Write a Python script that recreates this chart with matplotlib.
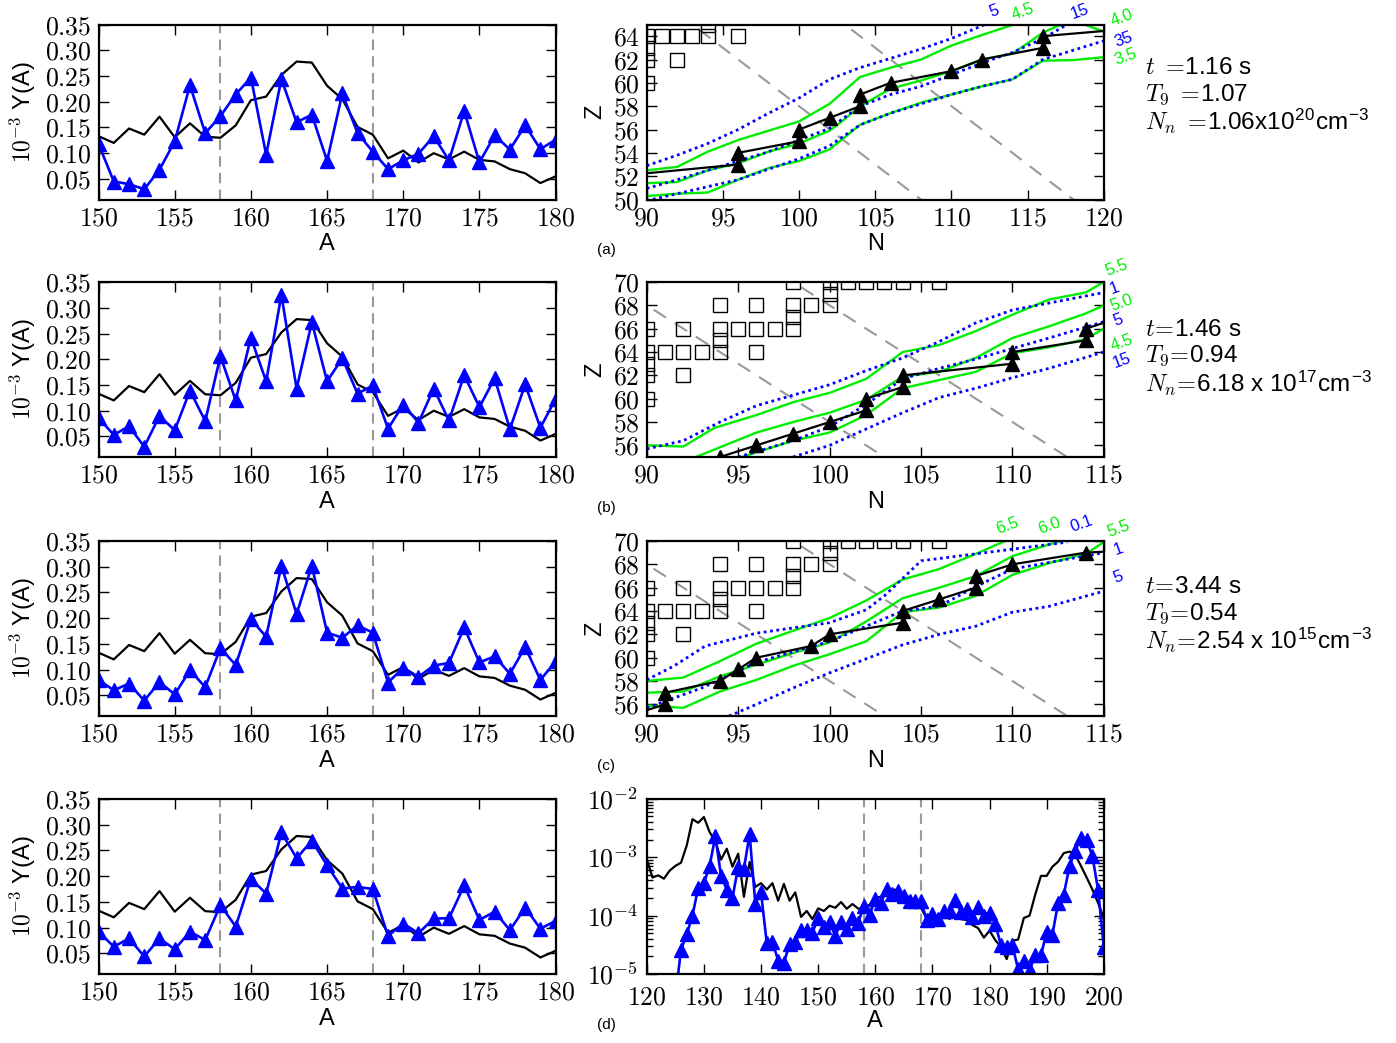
import numpy as np
import matplotlib.pyplot as plt
from matplotlib.ticker import FuncFormatter, LogLocator, NullFormatter

plt.rcParams['mathtext.fontset'] = 'cm'
plt.rcParams['font.family'] = ['Liberation Sans', 'DejaVu Sans']

# abundances around the rare-earth peak, A = 150..180, in units of 1e-3
A = np.arange(150, 181)
solar = [0.133, 0.120, 0.148, 0.136, 0.171, 0.131, 0.158, 0.132, 0.130, 0.154,
         0.203, 0.210, 0.252, 0.278, 0.276, 0.231, 0.205, 0.151, 0.136, 0.090,
         0.105, 0.082, 0.100, 0.088, 0.103, 0.087, 0.084, 0.069, 0.061, 0.042,
         0.055]
Y_a = [0.118, 0.045, 0.040, 0.030, 0.068, 0.123, 0.232, 0.139, 0.172, 0.214,
       0.247, 0.097, 0.244, 0.160, 0.175, 0.085, 0.216, 0.139, 0.103, 0.069,
       0.086, 0.099, 0.133, 0.086, 0.182, 0.082, 0.135, 0.107, 0.154, 0.108,
       0.126]
Y_b = [0.086, 0.053, 0.070, 0.030, 0.090, 0.062, 0.139, 0.080, 0.206, 0.120,
       0.242, 0.157, 0.325, 0.143, 0.272, 0.157, 0.202, 0.133, 0.149, 0.065,
       0.112, 0.077, 0.143, 0.081, 0.169, 0.107, 0.163, 0.064, 0.151, 0.067,
       0.123]
Y_c = [0.080, 0.060, 0.073, 0.040, 0.076, 0.052, 0.099, 0.066, 0.142, 0.109,
       0.198, 0.164, 0.302, 0.208, 0.302, 0.172, 0.162, 0.186, 0.172, 0.075,
       0.104, 0.086, 0.108, 0.113, 0.182, 0.114, 0.126, 0.092, 0.144, 0.080,
       0.116]
Y_d = [0.092, 0.063, 0.079, 0.044, 0.079, 0.058, 0.092, 0.076, 0.144, 0.102,
       0.195, 0.166, 0.285, 0.235, 0.269, 0.221, 0.176, 0.179, 0.175, 0.084,
       0.108, 0.089, 0.118, 0.118, 0.182, 0.115, 0.131, 0.095, 0.139, 0.098,
       0.113]

# wide range for the final abundances (absolute units)
A_solar_lo = np.arange(120, 150)
solar_lo = [9.3e-4, 4.5e-4, 4.9e-4, 4.3e-4, 5.9e-4, 7.1e-4, 8.1e-4, 1.6e-3, 4.5e-3, 3.9e-3,
            4.9e-3, 2.7e-3, 1.9e-3, 9.1e-4, 1.4e-3, 6.9e-4, 1.15e-3, 2.1e-4, 8.3e-4, 3.1e-4,
            3.6e-4, 2.8e-4, 3.6e-4, 1.8e-4, 3.5e-4, 1.8e-4, 2.5e-4, 9.5e-5, 1.2e-4, 8.7e-5]
A_hi = np.arange(181, 201)
solar_hi = [3.8e-5, 2.9e-5, 1.8e-5, 3.7e-5, 3.9e-5, 9.1e-5, 1.0e-4, 2.3e-4, 4.8e-4, 4.8e-4,
            6.9e-4, 8.4e-4, 1.18e-3, 1.25e-3, 1.1e-3, 7.1e-4, 4.5e-4, 2.8e-4, 1.65e-4, 9.1e-5]
A_calc_lo = np.arange(125, 150)
Y_lo = [4e-6, 2.6e-5, 4.8e-5, 1.0e-4, 3.0e-4, 3.6e-4, 7.1e-4, 2.3e-3, 4.8e-4, 2.8e-4,
        2.0e-4, 6.9e-4, 6.3e-4, 2.5e-3, 1.6e-4, 2.5e-4, 3.4e-5, 3.5e-5, 1.7e-5, 1.55e-5,
        3.3e-5, 3.5e-5, 5.6e-5, 5.6e-5, 5.1e-5]
Y_hi = [7.2e-5, 3.1e-5, 2.9e-5, 3.1e-5, 1.2e-5, 1.7e-5, 1.15e-5, 2.1e-5, 2.1e-5, 5.2e-5,
        4.7e-5, 1.66e-4, 2.3e-4, 7.1e-4, 1.3e-3, 2.1e-3, 1.95e-3, 1.05e-3, 2.75e-4, 2.9e-5]

# mass window marked in every panel
A_window = [158, 168]

# stable nuclei (N, Z)
stable_N = [90, 90, 90, 90, 91, 92, 93, 94, 96, 94,
            90, 92, 94, 95, 96, 97, 98, 98,
            94, 96, 98, 99, 100, 100,
            98, 100, 101, 102, 103, 104, 106, 92]
stable_Z = [60, 62, 63, 64, 64, 64, 64, 64, 64, 65,
            66, 66, 66, 66, 66, 66, 66, 67,
            68, 68, 68, 68, 68, 69,
            70, 70, 70, 70, 70, 70, 70, 62]

# r-process path (most abundant isotope per element)
path_a_N = [88, 96, 96, 100, 100, 102, 104, 104, 106, 110, 112, 116, 116, 125]
path_a_Z = [52, 53, 54, 55, 56, 57, 58, 59, 60, 61, 62, 63, 64, 65]
path_b_N = [92, 94, 96, 98, 100, 102, 102, 104, 104, 110, 110, 114, 114, 116]
path_b_Z = [54, 55, 56, 57, 58, 59, 60, 61, 62, 63, 64, 65, 66, 67]
path_c_N = [89, 91, 91, 94, 95, 96, 99, 100, 104, 104, 106, 108, 108, 110, 114, 126]
path_c_Z = [55, 56, 57, 58, 59, 60, 61, 62, 63, 64, 65, 66, 67, 68, 69, 70]

# neutron separation energy contours (MeV)
sn_a = {
    '4.5': ([90, 92, 94, 96, 98, 100, 102, 104, 106, 108, 110, 112, 114.1],
            [52.5, 52.8, 54.1, 55.1, 55.9, 56.7, 58.2, 60.5, 61.3, 62.0, 63.2, 64.1, 65.0]),
    '4.0': ([90, 92, 93, 94, 96, 98, 100, 102, 103, 104, 106, 108, 110, 112, 114, 116, 117, 118.5, 120],
            [51.4, 51.5, 52.0, 52.5, 53.1, 54.1, 54.8, 55.9, 56.9, 58.0, 59.5, 60.2, 61.0, 62.0, 62.5, 64.3, 64.9, 65.1, 64.4]),
    '3.5': ([90, 92, 94, 96, 98, 100, 102, 104, 106, 108, 110, 112, 114, 116, 118, 120],
            [50.3, 50.5, 50.6, 51.7, 52.7, 53.3, 54.3, 56.4, 57.4, 58.3, 59.0, 59.7, 60.3, 61.9, 61.95, 62.2]),
}
sn_b = {
    '5.5': ([90, 92, 93.7, 96, 98, 100, 102, 104, 106, 108, 110, 112, 114, 115],
            [56.0, 55.9, 57.5, 58.6, 59.7, 60.5, 61.7, 64.0, 64.6, 65.8, 67.2, 68.5, 69.1, 70.0]),
    '5.0': ([92, 93, 96, 98, 100, 102, 104, 106, 108, 110, 112, 114, 115],
            [54.6, 55.2, 57.1, 58.0, 58.8, 59.9, 61.9, 62.3, 63.5, 65.2, 66.2, 67.3, 68.0]),
    '4.5': ([95, 98, 100, 102, 104, 106, 108, 110, 112, 114, 115],
            [54.9, 56.4, 57.1, 58.6, 60.9, 61.6, 62.3, 63.9, 64.4, 65.1, 66.0]),
}
sn_c = {
    '6.5': ([90, 92, 94, 96, 98, 100, 102, 104, 106, 108, 109.6],
            [58.0, 58.3, 59.7, 61.2, 62.3, 63.4, 64.9, 66.7, 67.6, 68.9, 70.0]),
    '6.0': ([90, 92, 94, 96, 98, 100, 102, 104, 106, 108, 110, 112, 112.7],
            [57.0, 57.1, 58.4, 59.4, 60.4, 61.3, 63.1, 65.1, 66.0, 67.0, 68.7, 69.7, 70.0]),
    '5.5': ([90, 92, 94, 96, 98, 100, 102, 104, 106, 108, 110, 112, 114, 115],
            [55.9, 55.7, 57.1, 58.1, 59.3, 60.3, 61.4, 63.9, 64.3, 65.3, 67.1, 68.1, 68.9, 69.9]),
}

# neutron-capture timescale contours
tau_a = {
    '5': ([90, 92, 94, 96, 98, 100, 102, 104, 106, 108, 110, 112.2],
          [52.9, 53.8, 54.8, 56.0, 57.4, 58.7, 60.3, 61.3, 62.1, 62.9, 63.8, 65.0]),
    '15': ([90, 92, 94, 96, 98, 100, 102, 104, 106, 108, 110, 112, 114, 116, 117.6],
           [50.95, 51.7, 52.5, 53.3, 54.1, 55.1, 56.1, 58.0, 59.0, 59.7, 60.7, 61.7, 62.6, 63.8, 65.0]),
    '35': ([90, 92, 94, 96, 98, 100, 102, 104, 106, 108, 110, 112, 114, 116, 118, 120],
           [49.9, 50.5, 51.1, 51.7, 52.6, 53.5, 54.6, 56.4, 57.4, 58.2, 59.0, 59.7, 60.3, 62.0, 62.8, 63.6]),
}
tau_b = {
    '1': ([90, 92, 94, 96, 98, 100, 102, 104, 106, 108, 110, 112, 115],
          [55.7, 56.4, 58.0, 59.4, 60.3, 61.2, 62.4, 63.5, 64.9, 66.5, 67.6, 68.2, 69.1]),
    '5': ([95, 98, 100, 102, 104, 106, 108, 110, 112, 115],
          [55.0, 56.4, 57.6, 59.5, 61.7, 62.6, 63.4, 64.3, 65.2, 66.6]),
    '15': ([98, 100, 102, 104, 106, 108, 110, 112, 115],
           [55.0, 56.0, 57.4, 58.8, 60.1, 60.9, 61.8, 62.6, 64.0]),
}
tau_c = {
    '0.1': ([90, 91.5, 93.2, 96, 100, 102, 103, 105, 108, 113],
            [58.1, 59.3, 61.0, 62.1, 63.0, 64.1, 65.3, 68.3, 68.9, 69.9]),
    '1': ([90, 93, 96, 100, 102, 104, 106, 108, 110, 115],
          [55.7, 57.4, 59.6, 61.4, 62.7, 64.0, 64.4, 66.1, 67.6, 69.0]),
    '5': ([94.5, 96, 98, 100, 102, 104, 106, 108, 110, 112, 115],
          [55.0, 56.0, 57.4, 58.7, 59.9, 61.1, 62.0, 62.7, 63.9, 64.4, 65.7]),
}

GREEN = '#00ee00'
GRAY = '#999999'

fig = plt.figure(figsize=(13.96, 10.43), dpi=100)
rows_y0 = [0.8087, 0.5618, 0.3135, 0.0662]
h = 0.1678
xl, xr, w = 0.0706, 0.4633, 0.3274


def style(ax):
    ax.tick_params(which='major', direction='in', top=True, right=True,
                   length=7, width=1, labelsize=18.5, pad=5)
    ax.tick_params(which='minor', direction='in', top=True, right=True,
                   length=4, width=1)
    for s in ax.spines.values():
        s.set_linewidth(1.6)


int_fmt = FuncFormatter(lambda v, p: '$%d$' % round(v))


def draw_yield(ax, Y):
    for a in A_window:
        ax.axvline(a, color=GRAY, lw=1.5, ls=(0, (5, 3)))
    ax.plot(A, solar, 'k-', lw=1.6)
    ax.plot(A, Y, '-^', color='b', ms=10, lw=1.9)
    ax.set_xlim(150, 180)
    ax.set_ylim(0.01, 0.35)
    ax.set_xticks([150, 155, 160, 165, 170, 175, 180])
    ax.set_yticks([0.05, 0.10, 0.15, 0.20, 0.25, 0.30, 0.35])
    ax.xaxis.set_major_formatter(int_fmt)
    ax.yaxis.set_major_formatter(FuncFormatter(lambda v, p: '$%.2f$' % v))
    ax.set_xlabel('A', fontsize=17, labelpad=2)
    ax.set_ylabel('$10^{-3}$ Y(A)', fontsize=17, labelpad=5)
    style(ax)


def draw_chart(ax, path_N, path_Z, sn, tau, labels, xlim, ylim):
    N = np.array([80, 130])
    for a in A_window:
        ax.plot(N, a - N, color=GRAY, lw=1.5, ls=(0, (7, 5)))
    ax.plot(stable_N, stable_Z, 's', ms=9.5, mfc='none', mec='k', mew=1.0)
    for n, z in sn.values():
        ax.plot(n, z, color=GREEN, lw=1.7)
    for n, z in tau.values():
        ax.plot(n, z, color='b', lw=2, ls=(0, (1, 1.3)))
    ax.plot(path_N, path_Z, 'k-^', ms=9.5, lw=1.6)
    for text, color, x, y in labels:
        ax.text(x, y, text, color=color, fontsize=12, rotation=20,
                ha='center', va='center', clip_on=False)
    ax.set_xlim(*xlim)
    ax.set_ylim(*ylim)
    ax.set_xticks(np.arange(xlim[0], xlim[1] + 1, 5))
    ax.set_yticks(np.arange(ylim[0] + (ylim[0] % 2), ylim[1] + 1, 2))
    ax.xaxis.set_major_formatter(int_fmt)
    ax.yaxis.set_major_formatter(int_fmt)
    ax.set_xlabel('N', fontsize=17, labelpad=2)
    ax.set_ylabel('Z', fontsize=17, labelpad=5)
    style(ax)


labels_a = [('5', 'b', 112.8, 66.1), ('4.5', GREEN, 114.7, 66.1), ('15', 'b', 118.4, 66.1),
            ('4.0', GREEN, 121.2, 65.6), ('35', 'b', 121.3, 63.7), ('3.5', GREEN, 121.4, 62.2)]
labels_b = [('5.5', GREEN, 115.7, 71.2), ('1', 'b', 115.6, 69.5), ('5.0', GREEN, 116.0, 68.2),
            ('5', 'b', 115.8, 66.7), ('4.5', GREEN, 116.0, 64.8), ('15', 'b', 116.0, 63.3)]
labels_c = [('6.5', GREEN, 109.7, 71.3), ('6.0', GREEN, 112.0, 71.3), ('0.1', 'b', 113.8, 71.5),
            ('5.5', GREEN, 115.8, 71.0), ('1', 'b', 115.8, 69.3), ('5', 'b', 115.8, 66.9)]

for y0, Y in zip(rows_y0, [Y_a, Y_b, Y_c, Y_d]):
    draw_yield(fig.add_axes([xl, y0, w, h]), Y)

draw_chart(fig.add_axes([xr, rows_y0[0], w, h]), path_a_N, path_a_Z, sn_a, tau_a,
           labels_a, (90, 120), (50, 65))
draw_chart(fig.add_axes([xr, rows_y0[1], w, h]), path_b_N, path_b_Z, sn_b, tau_b,
           labels_b, (90, 115), (55, 70))
draw_chart(fig.add_axes([xr, rows_y0[2], w, h]), path_c_N, path_c_Z, sn_c, tau_c,
           labels_c, (90, 115), (55, 70))

# full abundance distribution on a log scale
ax = fig.add_axes([xr, rows_y0[3], w, h])
A_solar = np.concatenate([A_solar_lo, A, A_hi])
Y_solar = np.concatenate([solar_lo, np.array(solar) * 1e-3, solar_hi])
A_calc = np.concatenate([A_calc_lo, A, A_hi])
Y_calc = np.concatenate([Y_lo, np.array(Y_d) * 1e-3, Y_hi])
for a in A_window:
    ax.axvline(a, color=GRAY, lw=1.5, ls=(0, (5, 3)))
ax.plot(A_solar, Y_solar, 'k-', lw=1.6)
ax.plot(A_calc, Y_calc, '-^', color='b', ms=10, lw=1.9)
ax.set_yscale('log')
ax.set_xlim(120, 200)
ax.set_ylim(1e-5, 1e-2)
ax.set_xticks(np.arange(120, 201, 10))
ax.xaxis.set_major_formatter(int_fmt)
ax.yaxis.set_major_locator(LogLocator(base=10, numticks=10))
ax.yaxis.set_minor_locator(LogLocator(base=10, subs=np.arange(2, 10), numticks=10))
ax.yaxis.set_minor_formatter(NullFormatter())
ax.yaxis.set_major_formatter(FuncFormatter(lambda v, p: '$10^{%d}$' % round(np.log10(v))))
ax.set_xlabel('A', fontsize=17, labelpad=1)
style(ax)
ax.tick_params(axis='x', which='major', pad=8)
ax.tick_params(axis='y', which='major', pad=6)

# panel tags
for tag, y in zip(['(a)', '(b)', '(c)', '(d)'], [0.760, 0.513, 0.266, 0.017]):
    fig.text(0.428, y, tag, fontsize=11, va='center')

# conditions at each snapshot
conditions = [
    (0.935, [r'$t\ =\!$1.16 s', r'$T_9\ =\!$1.07',
             r'$N_n\ =\!$1.06x10$^{\mathregular{20}}$cm$^{\mathregular{-3}}$']),
    (0.684, [r'$t\!=\!$1.46 s', r'$T_9\!=\!$0.94',
             r'$N_n\!=\!$6.18 x 10$^{\mathregular{17}}$cm$^{\mathregular{-3}}$']),
    (0.437, [r'$t\!=\!$3.44 s', r'$T_9\!=\!$0.54',
             r'$N_n\!=\!$2.54 x 10$^{\mathregular{15}}$cm$^{\mathregular{-3}}$']),
]
for y_top, lines in conditions:
    for i, s in enumerate(lines):
        fig.text(0.820, y_top - i * 0.0255, s, fontsize=17.5, va='center', ha='left')

fig.savefig('out.png', dpi=100)
